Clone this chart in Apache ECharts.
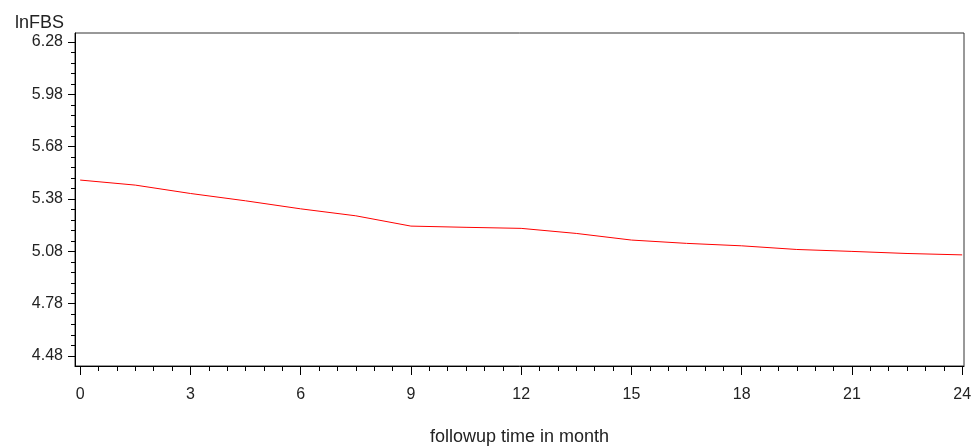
<!DOCTYPE html>
<html>
<head>
<meta charset="utf-8">
<script src="https://cdn.jsdelivr.net/npm/echarts@6/dist/echarts.min.js"></script>
<style>
html,body{margin:0;padding:0;background:#fff;}
#chart{width:972px;height:446px;}
</style>
</head>
<body>
<div id="chart"></div>
<script>
const months = [0, 1.5, 3, 4.5, 6, 7.5, 9, 10.5, 12, 13.5, 15, 16.5, 18, 19.5, 21, 22.5, 24];
const lnFBS = [5.489, 5.460, 5.412, 5.370, 5.324, 5.284, 5.225, 5.218, 5.212, 5.183, 5.145, 5.126, 5.112, 5.091, 5.080, 5.068, 5.060];
const xMajorTicks = [0, 3, 6, 9, 12, 15, 18, 21, 24];
const yMajorTicks = [4.48, 4.78, 5.08, 5.38, 5.68, 5.98, 6.28];
const yTitle = 'lnFBS';
const xTitle = 'followup time in month';

const xMinor = [];
for (let i = 0; i <= 48; i++) { const v = i * 0.5; if (v % 3 !== 0) xMinor.push(v); }
const yMinor = [];
for (let i = 0; i <= 30; i++) { if (i % 5 !== 0) yMinor.push(+(4.48 + i * 0.06).toFixed(2)); }

const font = 'Liberation Sans, Arial, sans-serif';
const txt = '#222';
const chart = echarts.init(document.getElementById('chart'));
chart.setOption({
  animation: false,
  title: { text: yTitle, left: 10, top: 9, textStyle: { fontFamily: font, fontSize: 18, fontWeight: 'normal', color: txt } },
  grid: { left: 75, right: 8, top: 33, bottom: 80, show: true, borderColor: '#333', borderWidth: 1,
    containLabel: false, outerBoundsMode: 'none' },
  xAxis: [{
    type: 'value', min: -0.14, max: 24.05,
    name: xTitle, nameLocation: 'middle', nameGap: 62,
    nameTextStyle: { fontFamily: font, fontSize: 18, color: txt },
    axisLine: { show: true, onZero: false, lineStyle: { color: '#000' } },
    axisTick: { show: true, length: 9, customValues: xMajorTicks, lineStyle: { color: '#000' } },
    axisLabel: { customValues: xMajorTicks, margin: 21, fontFamily: font, fontSize: 16, color: txt },
    splitLine: { show: false }
  }, {
    type: 'value', min: -0.14, max: 24.05, position: 'bottom',
    axisLine: { show: false, onZero: false },
    axisTick: { show: true, length: 5, customValues: xMinor, lineStyle: { color: '#000' } },
    axisLabel: { show: false },
    splitLine: { show: false }
  }],
  yAxis: [{
    type: 'value', min: 4.423, max: 6.332,
    axisLine: { show: true, onZero: false, lineStyle: { color: '#000' } },
    axisTick: { show: true, length: 7, customValues: yMajorTicks, lineStyle: { color: '#000' } },
    axisLabel: { customValues: yMajorTicks, margin: 12, fontFamily: font, fontSize: 16, color: txt,
      formatter: v => v.toFixed(2) },
    splitLine: { show: false }
  }, {
    type: 'value', min: 4.423, max: 6.332, position: 'left',
    axisLine: { show: false, onZero: false },
    axisTick: { show: true, length: 4, customValues: yMinor, lineStyle: { color: '#000' } },
    axisLabel: { show: false },
    splitLine: { show: false }
  }],
  series: [{
    type: 'line',
    data: months.map((m, i) => [m, lnFBS[i]]),
    showSymbol: false,
    symbol: 'none',
    lineStyle: { color: '#ff0000', width: 1 },
    itemStyle: { color: '#ff0000' }
  }]
});
</script>
</body>
</html>
